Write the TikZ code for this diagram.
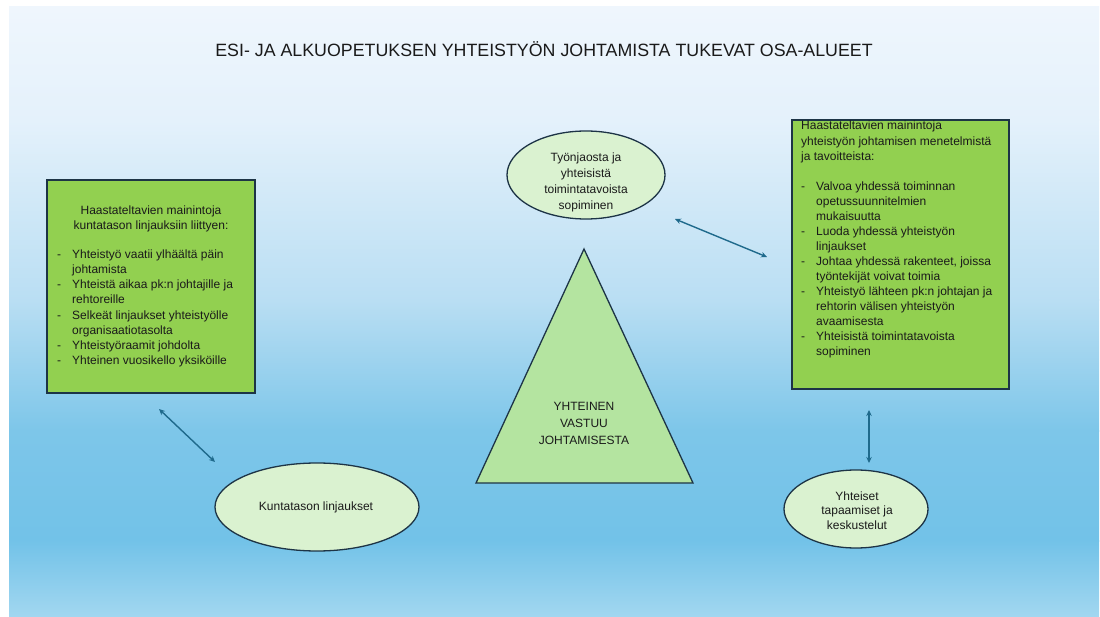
\documentclass[tikz,border=0pt]{standalone}
\usepackage{fontspec}
\setmainfont{Liberation Sans}
\usetikzlibrary{arrows.meta,shapes.geometric}
\definecolor{boxgreen}{HTML}{92D050}
\definecolor{ellfill}{HTML}{DAF2D0}
\definecolor{trifill}{HTML}{B4E4A0}
\definecolor{edgec}{HTML}{1D3446}
\definecolor{arrowc}{HTML}{1F6A8C}
\definecolor{textc}{HTML}{1A1A1A}
\definecolor{bgA}{HTML}{EFF6FD}
\definecolor{bgB}{HTML}{E4F1FB}
\definecolor{bgC}{HTML}{B9DEF3}
\definecolor{bgD}{HTML}{7DC6E9}
\definecolor{bgE}{HTML}{72C2E8}
\definecolor{bgF}{HTML}{A2D7F0}
\newcommand{\tline}[4]{\node[txt,anchor=west] (#1) at (#2,#3) {#4};}
\newcommand{\ctline}[4]{\node[txt,anchor=center] (#1) at (#2,#3) {#4};}
\begin{document}
\begin{tikzpicture}[x=1pt,y=-1pt,
  txt/.style={font=\fontsize{12}{15}\selectfont, text=textc, inner sep=0pt, text height=8.5pt, text depth=2.5pt},
  infobox/.style={draw=edgec, line width=1.2pt, fill=boxgreen, rectangle, inner sep=0pt},
  oval/.style={draw=edgec, line width=1.3pt, fill=ellfill, ellipse, inner sep=0pt},
  link/.style={draw=arrowc, line width=1.4pt, {Stealth[length=6pt,width=5.5pt]}-{Stealth[length=6pt,width=5.5pt]}}
]
\useasboundingbox (0,0) rectangle (1100,617);
\fill[white] (0,0) rectangle (1100,617);
% background panel gradient
\shade[top color=bgA, bottom color=bgB] (9,7) rectangle (1099,121);
\shade[top color=bgB, bottom color=bgC] (9,120) rectangle (1099,301);
\shade[top color=bgC, bottom color=bgD] (9,300) rectangle (1099,431);
\shade[top color=bgD, bottom color=bgE] (9,430) rectangle (1099,541);
\shade[top color=bgE, bottom color=bgF] (9,540) rectangle (1099,617);

% title
\node[font=\fontsize{17.8}{21}\selectfont, text=textc, inner sep=0pt] (title) at (544,49) {ESI- JA ALKUOPETUKSEN YHTEISTYÖN JOHTAMISTA TUKEVAT OSA-ALUEET};

% left box
\node[infobox, minimum width=208pt, minimum height=213pt] (lbox) at (151,286.5) {};
\ctline{lt1}{151}{212}{Haastateltavien mainintoja}
\ctline{lt2}{151}{227}{kuntatason linjauksiin liittyen:}
\tline{ld1}{57}{256}{-}
\tline{li1}{72}{256}{Yhteistyö vaatii ylhäältä päin}
\tline{li1b}{72}{271}{johtamista}
\tline{ld2}{57}{286}{-}
\tline{li2}{72}{286}{Yhteistä aikaa pk:n johtajille ja}
\tline{li2b}{72}{301}{rehtoreille}
\tline{ld3}{57}{316.5}{-}
\tline{li3}{72}{316.5}{Selkeät linjaukset yhteistyölle}
\tline{li3b}{72}{331.5}{organisaatiotasolta}
\tline{ld4}{57}{346.5}{-}
\tline{li4}{72}{346.5}{Yhteistyöraamit johdolta}
\tline{ld5}{57}{362}{-}
\tline{li5}{72}{362}{Yhteinen vuosikello yksiköille}

% right box
\node[infobox, minimum width=217pt, minimum height=269pt] (rbox) at (900.5,254.5) {};
\tline{rt1}{801}{127}{Haastateltavien mainintoja}
\tline{rt2}{801}{142.5}{yhteistyön johtamisen menetelmistä}
\tline{rt3}{801}{158}{ja tavoitteista:}
\tline{rd1}{801}{187.3}{-}
\tline{ri1}{816}{187.3}{Valvoa yhdessä toiminnan}
\tline{ri1b}{816}{202.3}{opetussuunnitelmien}
\tline{ri1c}{816}{217.3}{mukaisuutta}
\tline{rd2}{801}{232.3}{-}
\tline{ri2}{816}{232.3}{Luoda yhdessä yhteistyön}
\tline{ri2b}{816}{247.3}{linjaukset}
\tline{rd3}{801}{262.3}{-}
\tline{ri3}{816}{262.3}{Johtaa yhdessä rakenteet, joissa}
\tline{ri3b}{816}{277.3}{työntekijät voivat toimia}
\tline{rd4}{801}{292.3}{-}
\tline{ri4}{816}{292.3}{Yhteistyö lähteen pk:n johtajan ja}
\tline{ri4b}{816}{307.3}{rehtorin välisen yhteistyön}
\tline{ri4c}{816}{322.3}{avaamisesta}
\tline{rd5}{801}{337.8}{-}
\tline{ri5}{816}{337.8}{Yhteisistä toimintatavoista}
\tline{ri5b}{816}{352.8}{sopiminen}

% top ellipse
\node[oval, minimum width=158pt, minimum height=88pt] (etop) at (586,175) {};
\ctline{et1}{586}{159}{Työnjaosta ja}
\ctline{et2}{586}{175}{yhteisistä}
\ctline{et3}{586}{191}{toimintatavoista}
\ctline{et4}{586}{207}{sopiminen}

% triangle
\coordinate (tA) at (584,249);
\coordinate (tB) at (693,483);
\coordinate (tC) at (476,483);
\draw[draw=edgec, line width=1.3pt, fill=trifill, line join=miter] (tA) -- (tB) -- (tC) -- cycle;
\ctline{tt1}{584}{407}{YHTEINEN}
\ctline{tt2}{584}{424}{VASTUU}
\ctline{tt3}{584}{441}{JOHTAMISESTA}

% bottom-left ellipse
\node[oval, minimum width=204pt, minimum height=88pt] (ebl) at (317,507) {};
\ctline{ebt}{316}{507}{Kuntatason linjaukset}

% bottom-right ellipse
\node[oval, minimum width=144pt, minimum height=78pt] (ebr) at (856,509) {};
\ctline{er1}{857}{497}{Yhteiset}
\ctline{er2}{857}{511.5}{tapaamiset ja}
\ctline{er3}{857}{526}{keskustelut}

% connectors
\coordinate (a1s) at (159,409);
\coordinate (a1e) at (215,462);
\coordinate (a2s) at (675,219);
\coordinate (a2e) at (767,257);
\coordinate (a3s) at (869,410);
\coordinate (a3e) at (869,463);
\draw[link] (a1s) -- (a1e);
\draw[link] (a2s) -- (a2e);
\draw[link] (a3s) -- (a3e);
\end{tikzpicture}
\end{document}
